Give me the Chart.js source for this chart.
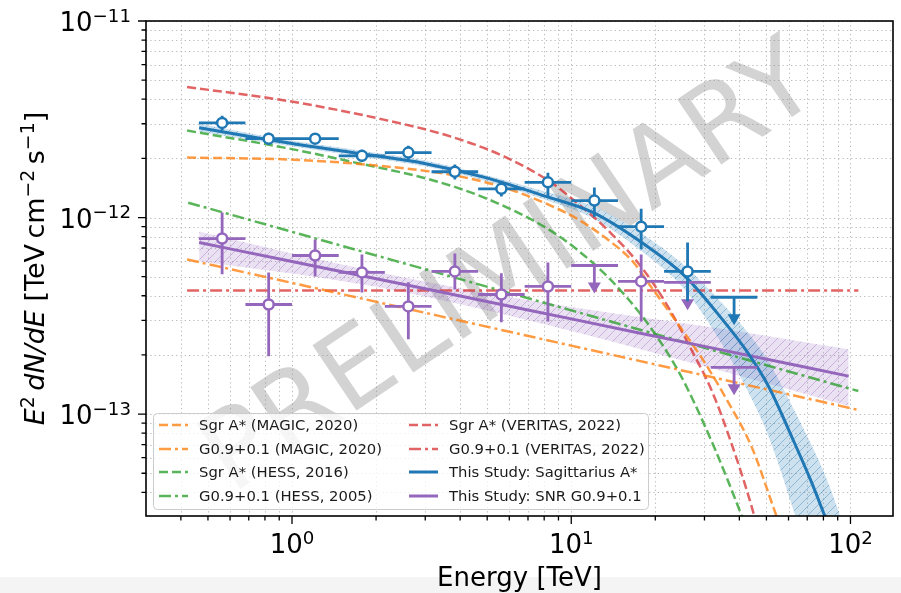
<!DOCTYPE html>
<html>
<head>
<meta charset="utf-8">
<title>Galactic Centre spectra</title>
<script src="https://cdn.jsdelivr.net/npm/chart.js@4.4.0/dist/chart.umd.min.js"></script>
<style>
  html, body { margin: 0; padding: 0; background: #fff; }
  canvas { display: block; }
</style>
</head>
<body>
<canvas id="spectrum" width="901" height="593"></canvas>
<script>
// energy bins (TeV), same binning for both sources
const binCenters = [0.562, 0.825, 1.21, 1.78, 2.61, 3.83, 5.62, 8.25, 12.1, 17.8, 26.1, 38.3];
const binLow     = [0.464, 0.681, 1.00, 1.47, 2.15, 3.16, 4.64, 6.81, 10.0, 14.7, 21.5, 31.6];
const binHigh    = [0.681, 1.00, 1.47, 2.15, 3.16, 4.64, 6.81, 10.0, 14.7, 21.5, 31.6, 46.4];

// Sagittarius A* flux points (TeV cm^-2 s^-1), last one is an upper limit
const sgrFlux    = [3.03e-12, 2.52e-12, 2.52e-12, 2.06e-12, 2.14e-12, 1.71e-12, 1.40e-12, 1.51e-12, 1.22e-12, 8.99e-13, 5.32e-13, 3.93e-13];
const sgrErrHigh = [3.30e-12, 2.70e-12, 2.68e-12, 2.21e-12, 2.32e-12, 1.86e-12, 1.54e-12, 1.69e-12, 1.42e-12, 1.11e-12, 7.46e-13, null];
const sgrErrLow  = [2.77e-12, 2.35e-12, 2.37e-12, 1.92e-12, 1.97e-12, 1.56e-12, 1.28e-12, 1.28e-12, 1.01e-12, 6.89e-13, 3.75e-13, null];
const sgrUL      = [0, 0, 0, 0, 0, 0, 0, 0, 0, 0, 0, 1];

// SNR G0.9+0.1 flux points
const snrFlux    = [7.82e-13, 3.61e-13, 6.41e-13, 5.26e-13, 3.53e-13, 5.32e-13, 4.06e-13, 4.46e-13, 5.70e-13, 4.73e-13, 4.68e-13, 1.73e-13];
const snrErrHigh = [1.06e-12, 5.26e-13, 7.73e-13, 6.49e-13, 4.68e-13, 6.56e-13, 5.20e-13, 5.91e-13, null, 6.49e-13, null, null];
const snrErrLow  = [5.14e-13, 1.97e-13, 5.01e-13, 4.16e-13, 2.40e-13, 4.31e-13, 2.93e-13, 2.96e-13, null, 2.96e-13, null, null];
const snrUL      = [0, 0, 0, 0, 0, 0, 0, 0, 1, 0, 1, 1];

// this study: Sgr A* fit and its band
const sgrFitE   = [0.465, 0.822, 1.77, 3.01, 4.90, 7.99, 12.0, 18.1, 25.6, 34.7, 42.5, 50.8, 62.8, 72.2, 82.2];
const sgrFitF   = [2.86e-12, 2.49e-12, 2.11e-12, 1.88e-12, 1.60e-12, 1.29e-12, 1.06e-12, 7.38e-13, 5.02e-13, 3.04e-13, 2.09e-13, 1.39e-13, 7.21e-14, 4.57e-14, 2.86e-14];
const sgrBandE  = [0.465, 0.822, 1.77, 3.01, 4.90, 7.99, 12.0, 18.1, 25.6, 34.7, 42.5, 50.8, 62.8, 72.2, 82.2, 95, 100];
const sgrBandHi = [3.00e-12, 2.58e-12, 2.19e-12, 1.95e-12, 1.65e-12, 1.36e-12, 1.14e-12, 8.20e-13, 5.65e-13, 3.66e-13, 2.64e-13, 1.86e-13, 1.05e-13, 7.05e-14, 4.68e-14, 2.63e-14, 2.09e-14];
const sgrBandLo = [2.73e-12, 2.40e-12, 2.04e-12, 1.82e-12, 1.54e-12, 1.24e-12, 9.89e-13, 6.64e-13, 4.27e-13, 2.26e-13, 1.34e-13, 7.73e-14, 3.18e-14, 1.69e-14, 9.4e-15, 4.5e-15, 3.5e-15];

// this study: G0.9+0.1 fit and its band
const snrFitE   = [0.465, 1, 3, 10, 30, 98.5];
const snrFitF   = [7.46e-13, 5.97e-13, 4.34e-13, 3.05e-13, 2.21e-13, 1.56e-13];
const snrBandE  = [0.465, 1, 2, 4, 10, 30, 98.5];
const snrBandHi = [8.49e-13, 6.56e-13, 5.30e-13, 4.37e-13, 3.51e-13, 2.80e-13, 2.14e-13];
const snrBandLo = [5.98e-13, 5.19e-13, 4.44e-13, 3.62e-13, 2.65e-13, 1.75e-13, 1.10e-13];

// published spectra
const magicSgrE = [0.421, 1.008, 2.00, 3.71, 5.77, 8.32, 10.46, 13.8, 16.6, 19.6, 23.6, 29.4, 36.1, 44.3, 52.9, 58.9];
const magicSgrF = [2.02e-12, 1.97e-12, 1.84e-12, 1.65e-12, 1.42e-12, 1.16e-12, 9.89e-13, 7.55e-13, 5.98e-13, 4.31e-13, 3.00e-13, 1.92e-13, 1.18e-13, 6.79e-14, 3.37e-14, 2.19e-14];
const magicG09E = [0.421, 1, 10, 106.7];
const magicG09F = [6.12e-13, 4.65e-13, 2.23e-13, 1.05e-13];
const hessSgrE  = [0.421, 0.952, 1.64, 3.23, 4.90, 7.99, 10.46, 13.8, 18.1, 22.5, 25.6, 32.7, 40.8, 44.4];
const hessSgrF  = [2.77e-12, 2.26e-12, 1.92e-12, 1.54e-12, 1.26e-12, 9.00e-13, 6.89e-13, 4.84e-13, 3.10e-13, 1.97e-13, 1.42e-13, 6.64e-14, 3.03e-14, 2.19e-14];
const hessG09E  = [0.425, 1, 10, 106.7];
const hessG09F  = [1.19e-12, 8.46e-13, 3.37e-13, 1.31e-13];
const verSgrE   = [0.421, 1.008, 2.15, 3.71, 5.77, 8.46, 10.46, 13.8, 18.1, 22.5, 27.1, 31.9, 36.7, 44.3, 48.0];
const verSgrF   = [4.62e-12, 3.88e-12, 3.14e-12, 2.58e-12, 2.04e-12, 1.51e-12, 1.19e-12, 8.39e-13, 5.45e-13, 3.41e-13, 2.09e-13, 1.31e-13, 7.73e-14, 3.37e-14, 2.19e-14];
const verG09E   = [0.421, 106.7];
const verG09F   = [4.26e-13, 4.26e-13];

// axis ticks
const xMajorTicks = [1, 10, 100];
const xMajorExp   = ['0', '1', '2'];
const xMinorTicks = [0.4, 0.5, 0.6, 0.7, 0.8, 0.9, 2, 3, 4, 5, 6, 7, 8, 9, 20, 30, 40, 50, 60, 70, 80, 90];
const yMajorTicks = [1e-13, 1e-12, 1e-11];
const yMajorExp   = ['\u221213', '\u221212', '\u221211'];
const yMinorTicks = [4e-14, 5e-14, 6e-14, 7e-14, 8e-14, 9e-14,
                     2e-13, 3e-13, 4e-13, 5e-13, 6e-13, 7e-13, 8e-13, 9e-13,
                     2e-12, 3e-12, 4e-12, 5e-12, 6e-12, 7e-12, 8e-12, 9e-12];

const FONT = '"DejaVu Sans", "Liberation Sans", sans-serif';
const BLUE = '#1f77b4', PURPLE = '#9467bd';
const ORANGE = 'rgba(255,127,14,0.78)', GREEN = 'rgba(44,160,44,0.78)', RED = 'rgba(214,39,40,0.72)';
const DASHED = [9, 4], DASHDOT = [12, 4, 3, 4];

const toXY = (xs, ys) => xs.map((x, i) => ({ x: x, y: ys[i] }));

function hatch(rgb, fillA, lineA) {
    const c = document.createElement('canvas');
    c.width = c.height = 9;
    const g = c.getContext('2d');
    g.fillStyle = 'rgba(' + rgb + ',' + fillA + ')';
    g.fillRect(0, 0, 9, 9);
    g.strokeStyle = 'rgba(' + rgb + ',' + lineA + ')';
    g.lineWidth = 1;
    g.beginPath();
    g.moveTo(-1, 10); g.lineTo(10, -1);
    g.moveTo(-5, 5); g.lineTo(5, -5);
    g.moveTo(4, 14); g.lineTo(14, 4);
    g.stroke();
    return g.createPattern(c, 'repeat');
}

function curve(label, xs, ys, color, dash, slot) {
    return {
        label: label, data: toXY(xs, ys),
        borderColor: color, borderWidth: 2.5, borderDash: dash,
        pointRadius: 0, cubicInterpolationMode: 'monotone',
        fill: false, order: 10, clip: 0, legendSlot: slot
    };
}

function band(xs, ys, fill, pattern, order) {
    return {
        data: toXY(xs, ys), borderWidth: 0, borderColor: 'rgba(0,0,0,0)',
        pointRadius: 0, cubicInterpolationMode: 'monotone',
        fill: fill, backgroundColor: pattern, order: order, clip: 0
    };
}

function points(ys, hi, lo, ul, color, order) {
    return {
        data: binCenters.map((x, i) => ({ x: x, y: ys[i] })),
        showLine: false, borderColor: color, backgroundColor: '#fff',
        pointRadius: binCenters.map((x, i) => ul[i] ? 0 : 5),
        pointBorderWidth: 2.5, pointBackgroundColor: '#fff', pointBorderColor: color,
        order: order,
        errorBars: { xLo: binLow, xHi: binHigh, yHi: hi, yLo: lo, ul: ul }
    };
}

// superscript text helpers: segments are [text, style] with style 'n', 'i' or 's'
function segFont(style, size) {
    if (style === 's') return (size * 0.7).toFixed(1) + 'px ' + FONT;
    if (style === 'i') return 'italic ' + size + 'px ' + FONT;
    return size + 'px ' + FONT;
}
function segWidth(ctx, segs, size) {
    let w = 0;
    segs.forEach(s => { ctx.font = segFont(s[1], size); w += ctx.measureText(s[0]).width; });
    return w;
}
function drawSegs(ctx, segs, x, y, size) {
    ctx.textAlign = 'left';
    ctx.textBaseline = 'alphabetic';
    segs.forEach(s => {
        ctx.font = segFont(s[1], size);
        ctx.fillText(s[0], x, s[1] === 's' ? y - size * 0.36 : y);
        x += ctx.measureText(s[0]).width;
    });
}

const errorBars = {
    id: 'errorBars',
    beforeDatasetDraw(chart, args) {
        const ds = chart.data.datasets[args.index];
        if (!ds.errorBars) return;
        const eb = ds.errorBars, ctx = chart.ctx, xs = chart.scales.x, ys = chart.scales.y;
        ctx.save();
        ctx.strokeStyle = ds.borderColor;
        ctx.fillStyle = ds.borderColor;
        ctx.lineWidth = 2.8;
        ds.data.forEach((p, i) => {
            const px = xs.getPixelForValue(p.x), py = ys.getPixelForValue(p.y);
            ctx.beginPath();
            ctx.moveTo(xs.getPixelForValue(eb.xLo[i]), py);
            ctx.lineTo(xs.getPixelForValue(eb.xHi[i]), py);
            if (eb.ul[i]) {
                ctx.moveTo(px, py);
                ctx.lineTo(px, py + 18);
            } else {
                ctx.moveTo(px, ys.getPixelForValue(eb.yHi[i]));
                ctx.lineTo(px, ys.getPixelForValue(eb.yLo[i]));
            }
            ctx.stroke();
            if (eb.ul[i]) {
                ctx.beginPath();
                ctx.moveTo(px - 6.5, py + 17);
                ctx.lineTo(px + 6.5, py + 17);
                ctx.lineTo(px, py + 28);
                ctx.closePath();
                ctx.fill();
            }
        });
        ctx.restore();
    }
};

const frame = {
    id: 'frame',
    beforeDraw(chart) {
        const ctx = chart.ctx;
        ctx.save();
        ctx.fillStyle = '#f4f4f4';
        ctx.fillRect(0, 577, chart.width, chart.height - 577);
        ctx.restore();
    },
    beforeDatasetsDraw(chart) {
        const { ctx, chartArea: a, scales: { x, y } } = chart;
        ctx.save();
        // dotted grid
        ctx.strokeStyle = 'rgba(170,170,170,0.8)';
        ctx.lineWidth = 1;
        ctx.setLineDash([1.3, 3]);
        ctx.beginPath();
        xMajorTicks.concat(xMinorTicks).forEach(v => {
            const px = Math.round(x.getPixelForValue(v)) + 0.5;
            if (px < a.left || px > a.right) return;
            ctx.moveTo(px, a.top); ctx.lineTo(px, a.bottom);
        });
        yMajorTicks.concat(yMinorTicks).forEach(v => {
            const py = Math.round(y.getPixelForValue(v)) + 0.5;
            if (py < a.top || py > a.bottom) return;
            ctx.moveTo(a.left, py); ctx.lineTo(a.right, py);
        });
        ctx.stroke();
        ctx.setLineDash([]);
        // watermark
        ctx.beginPath();
        ctx.rect(a.left, a.top, a.right - a.left, a.bottom - a.top);
        ctx.clip();
        ctx.translate(512, 272);
        ctx.rotate(-34 * Math.PI / 180);
        ctx.font = '108px ' + FONT;
        ctx.fillStyle = 'rgba(140,140,140,0.38)';
        ctx.textAlign = 'center';
        ctx.textBaseline = 'middle';
        ctx.fillText('PRELIMINARY', 0, 0);
        ctx.restore();
    },
    afterDraw(chart) {
        const { ctx, chartArea: a, scales: { x, y } } = chart;
        ctx.save();
        ctx.strokeStyle = '#000';
        ctx.lineWidth = 1.6;
        ctx.strokeRect(a.left, a.top, a.right - a.left, a.bottom - a.top);
        // tick marks
        ctx.lineWidth = 1.3;
        ctx.beginPath();
        const tickX = (v, len) => { const px = x.getPixelForValue(v); ctx.moveTo(px, a.bottom); ctx.lineTo(px, a.bottom + len); };
        const tickY = (v, len) => { const py = y.getPixelForValue(v); ctx.moveTo(a.left, py); ctx.lineTo(a.left - len, py); };
        xMajorTicks.forEach(v => tickX(v, 8));
        xMinorTicks.forEach(v => tickX(v, 4.5));
        yMajorTicks.forEach(v => tickY(v, 8));
        yMinorTicks.forEach(v => tickY(v, 4.5));
        ctx.stroke();
        // tick labels
        ctx.fillStyle = '#000';
        const size = 26;
        xMajorTicks.forEach((v, i) => {
            const segs = [['10', 'n'], [xMajorExp[i], 's']];
            const w = segWidth(ctx, segs, size);
            drawSegs(ctx, segs, x.getPixelForValue(v) - w / 2, 553, size);
        });
        yMajorTicks.forEach((v, i) => {
            const segs = [['10', 'n'], [yMajorExp[i], 's']];
            const w = segWidth(ctx, segs, size);
            drawSegs(ctx, segs, 131 - w, y.getPixelForValue(v) + 10, size);
        });
        // axis titles
        const xt = [['Energy [TeV]', 'n']];
        drawSegs(ctx, xt, (a.left + a.right) / 2 - segWidth(ctx, xt, size) / 2, 586, size);
        const ts = 27;
        const yt = [['E', 'i'], ['2', 's'], ['\u2009dN/dE', 'i'], [' [TeV\u2009cm', 'n'], ['\u22122', 's'],
                    ['\u2009s', 'n'], ['\u22121', 's'], [']', 'n']];
        ctx.translate(44, (a.top + a.bottom) / 2);
        ctx.rotate(-Math.PI / 2);
        drawSegs(ctx, yt, -segWidth(ctx, yt, ts) / 2, 0, ts);
        ctx.restore();
    }
};

const boxLegend = {
    id: 'boxLegend',
    afterDatasetsDraw(chart) {
        const ctx = chart.ctx;
        ctx.save();
        ctx.beginPath();
        ctx.roundRect(153.5, 413.5, 495, 96, 4);
        ctx.fillStyle = 'rgba(255,255,255,0.8)';
        ctx.fill();
        ctx.strokeStyle = '#cccccc';
        ctx.lineWidth = 1;
        ctx.stroke();
        const colX = [159, 409], rowY = [425, 449, 472, 496];
        ctx.font = '14.8px ' + FONT;
        ctx.textBaseline = 'middle';
        chart.data.datasets.forEach(ds => {
            if (!ds.legendSlot) return;
            const [col, row] = ds.legendSlot;
            const lx = colX[col], ly = rowY[row];
            ctx.strokeStyle = ds.borderColor;
            ctx.lineWidth = ds.borderWidth;
            ctx.setLineDash(ds.borderDash || []);
            ctx.beginPath();
            ctx.moveTo(lx, ly); ctx.lineTo(lx + 29, ly);
            ctx.stroke();
            ctx.setLineDash([]);
            ctx.fillStyle = '#1a1a1a';
            ctx.fillText(ds.label, lx + 40, ly + 1);
        });
        ctx.restore();
    }
};

const blueHatch = hatch('31,119,180', 0.22, 0.38);
const purpleHatch = hatch('148,103,189', 0.2, 0.38);

const datasets = [
    band(sgrBandE, sgrBandHi, false, blueHatch, 20),
    band(sgrBandE, sgrBandLo, '-1', blueHatch, 20),
    band(snrBandE, snrBandHi, false, purpleHatch, 21),
    band(snrBandE, snrBandLo, '-1', purpleHatch, 21),
    curve('Sgr A* (MAGIC, 2020)', magicSgrE, magicSgrF, ORANGE, DASHED, [0, 0]),
    curve('G0.9+0.1 (MAGIC, 2020)', magicG09E, magicG09F, ORANGE, DASHDOT, [0, 1]),
    curve('Sgr A* (HESS, 2016)', hessSgrE, hessSgrF, GREEN, DASHED, [0, 2]),
    curve('G0.9+0.1 (HESS, 2005)', hessG09E, hessG09F, GREEN, DASHDOT, [0, 3]),
    curve('Sgr A* (VERITAS, 2022)', verSgrE, verSgrF, RED, DASHED, [1, 0]),
    curve('G0.9+0.1 (VERITAS, 2022)', verG09E, verG09F, RED, DASHDOT, [1, 1]),
    Object.assign(curve('This Study: Sagittarius A*', sgrFitE, sgrFitF, BLUE, [], [1, 2]), { borderWidth: 3, order: 5 }),
    Object.assign(curve('This Study: SNR G0.9+0.1', snrFitE, snrFitF, PURPLE, [], [1, 3]), { borderWidth: 3, order: 5 }),
    points(snrFlux, snrErrHigh, snrErrLow, snrUL, PURPLE, 2),
    points(sgrFlux, sgrErrHigh, sgrErrLow, sgrUL, BLUE, 1)
];

new Chart(document.getElementById('spectrum'), {
    type: 'line',
    data: { datasets: datasets },
    options: {
        responsive: false,
        animation: false,
        devicePixelRatio: 1,
        events: [],
        layout: { padding: { left: 146, right: 8, top: 21, bottom: 77 } },
        plugins: { legend: { display: false }, tooltip: { enabled: false } },
        scales: {
            x: { type: 'logarithmic', min: 0.322, max: 142, display: false },
            y: { type: 'logarithmic', min: 3.03e-14, max: 1e-11, display: false }
        }
    },
    plugins: [frame, errorBars, boxLegend]
});
</script>
</body>
</html>
